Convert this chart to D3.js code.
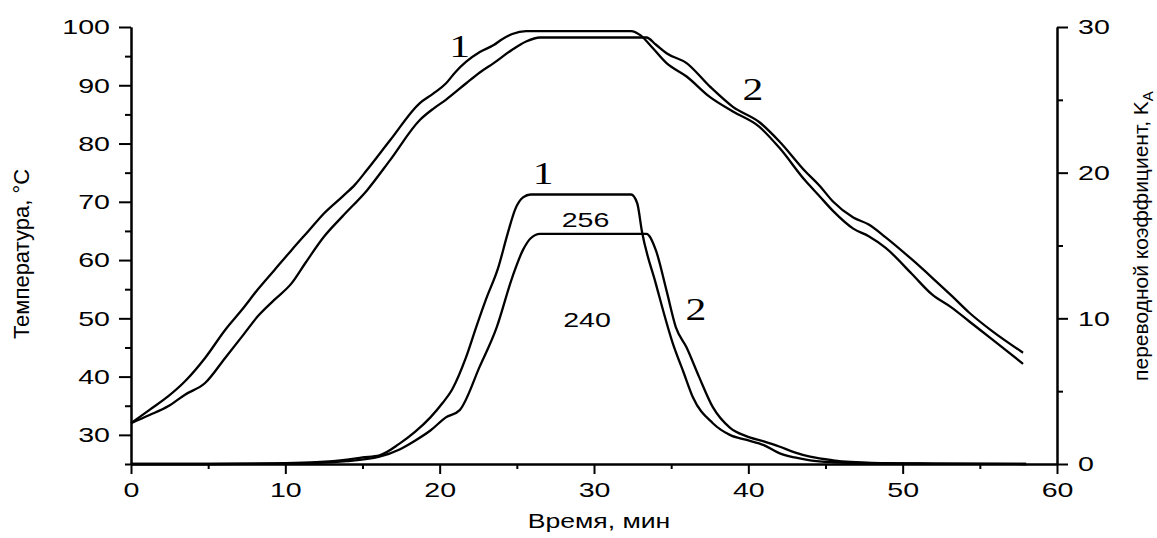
<!DOCTYPE html>
<html>
<head>
<meta charset="utf-8">
<script src="https://cdn.jsdelivr.net/npm/d3@7"></script>
<style>
  html, body { margin: 0; padding: 0; background: #fff; }
  svg { display: block; }
  text { font-family: "Liberation Sans", Arial, sans-serif; fill: #000; }
</style>
</head>
<body>
<svg id="chart" width="1157" height="538"></svg>
<script>
// ---- data ----
const tempTime1 = [0,1.2,2.4,3.5,4.8,6.1,7.2,8.2,9.3,10.4,11.5,12.5,13.7,14.5,15.3,16.8,18.7,19.6,20.4,21.0,21.7,22.6,23.5,24.1,24.7,25.6,32.4,33.0,33.6,34.7,36.0,37.5,39.0,40.7,42.0,43.7,44.6,45.5,46.8,47.8,48.9,50.6,51.9,53.2,54.3,55.8,57.8];
const tempValues1 = [32,34.3,36.6,39.2,43.2,48.0,51.5,54.9,58.3,61.7,65.0,68.0,70.9,72.9,75.5,80.6,86.9,88.6,90.3,92.2,94.0,95.7,96.9,98.0,98.8,99.3,99.3,98.6,97.0,93.8,91.5,88.0,85.5,82.9,79.3,73.6,71.0,68.4,65.4,64.1,62.1,57.6,54.1,51.8,49.5,46.4,42.2];
const tempTime2 = [0,1.2,2.4,3.5,4.8,6.1,7.2,8.2,9.3,10.4,11.3,12.5,13.7,15.3,16.8,18.7,19.6,20.4,21.7,22.6,23.5,24.7,25.6,26.5,33.4,34.0,34.7,36.0,37.5,39.0,40.7,42.0,43.7,44.6,45.5,46.8,47.8,48.9,50.6,51.9,53.2,54.3,55.8,57.8];
const tempValues2 = [32,33.4,34.9,36.9,38.9,43.2,46.9,50.3,53.2,56.0,59.5,64.0,67.5,72.0,77.2,84.0,86.0,87.5,90.3,92.2,93.8,96.1,97.5,98.2,98.2,97.0,95.5,93.8,89.8,86.3,83.7,80.4,75.2,72.8,70.0,67.3,66.1,63.9,60.1,57.0,53.8,51.0,47.8,44.1];
const kTime1 = [0,5,10,12,14,15,16.1,17.4,18.4,19.4,20.2,20.8,21.7,22.4,23.0,23.8,24.4,24.9,25.4,25.9,32.4,32.8,33.1,34.0,35.1,35.8,36.4,37.7,38.8,39.9,41.0,42.0,43.0,44.0,45.5,48,52,58];
const kValues1 = [0,0,0.05,0.12,0.3,0.45,0.6,1.4,2.2,3.2,4.2,5.1,7.3,9.5,11.3,13.5,15.8,17.5,18.3,18.5,18.5,17.9,16.0,12.4,8.3,6.3,4.6,2.8,2.0,1.65,1.3,0.75,0.45,0.25,0.12,0.05,0.02,0];
const kTime2 = [0,5,10,14,16.1,17.4,18.4,19.4,20.4,21.3,22.6,23.7,24.7,25.4,25.9,26.5,33.4,34.0,34.7,35.3,36.0,36.8,37.7,38.8,39.9,41.0,42.0,43.0,44.0,45.5,48,52,58];
const kValues2 = [0,0,0.03,0.2,0.5,1.0,1.6,2.3,3.2,3.7,6.7,9.4,12.8,14.7,15.5,15.8,15.8,14.7,11.9,9.4,8.0,6.0,3.9,2.5,1.9,1.55,1.2,0.8,0.5,0.25,0.08,0.03,0];

const xMajor = [0,10,20,30,40,50,60];
const xMinor = [5,15,25,35,45,55];
const yLeftMajor = [30,40,50,60,70,80,90,100];
const yLeftMinor = [25,35,45,55,65,75,85,95];
const yRightMajor = [0,10,20,30];
const yRightMinor = [5,15,25];

const xTitle = "Время, мин";
const yLeftTitle = "Температура, °C";
const yRightTitle = "переводной коэффициент, K";
const yRightSub = "A";
const areaLabels = ["256", "240"];

// ---- layout ----
const svg = d3.select("#chart");
const X0 = 131, X1 = 1057, Y0 = 464, Y1 = 27;
const x = d3.scaleLinear().domain([0,60]).range([X0,X1]);
const yL = d3.scaleLinear().domain([25,100]).range([Y0,Y1]);
const yR = d3.scaleLinear().domain([0,30]).range([Y0,Y1]);

const STRETCH = 1.36;
function stretch(sel, f) {
  sel.each(function() {
    const len = this.getComputedTextLength();
    if (len > 0) {
      this.setAttribute("textLength", (len * f).toFixed(2));
      this.setAttribute("lengthAdjust", "spacingAndGlyphs");
    }
  });
}

function styleAxis(g) {
  g.selectAll("path.domain").attr("stroke", "#000").attr("stroke-width", 2);
  g.selectAll(".tick line").attr("stroke", "#000").attr("stroke-width", 2);
  g.selectAll(".tick text").attr("font-size", 21).attr("font-family", "Liberation Sans, Arial, sans-serif").attr("fill", "#000");
}

// bottom axis
const gxMin = svg.append("g").attr("transform", `translate(0,${Y0})`)
  .call(d3.axisBottom(x).tickValues(xMinor).tickSize(5).tickFormat("").tickSizeOuter(0));
styleAxis(gxMin);
const gx = svg.append("g").attr("transform", `translate(0,${Y0})`)
  .call(d3.axisBottom(x).tickValues(xMajor).tickSize(10).tickPadding(8).tickSizeOuter(0).tickFormat(d3.format("d")));
styleAxis(gx);

// left axis
const gyMin = svg.append("g").attr("transform", `translate(${X0},0)`)
  .call(d3.axisLeft(yL).tickValues(yLeftMinor).tickSize(6).tickFormat("").tickSizeOuter(0));
styleAxis(gyMin);
const gy = svg.append("g").attr("transform", `translate(${X0},0)`)
  .call(d3.axisLeft(yL).tickValues(yLeftMajor).tickSize(12).tickPadding(9).tickSizeOuter(0).tickFormat(d3.format("d")));
styleAxis(gy);

// right axis
const grMin = svg.append("g").attr("transform", `translate(${X1},0)`)
  .call(d3.axisRight(yR).tickValues(yRightMinor).tickSize(6).tickFormat("").tickSizeOuter(0));
styleAxis(grMin);
const gr = svg.append("g").attr("transform", `translate(${X1},0)`)
  .call(d3.axisRight(yR).tickValues(yRightMajor).tickSize(11).tickPadding(10).tickSizeOuter(0).tickFormat(d3.format("d")));
styleAxis(gr);

stretch(svg.selectAll(".tick text"), STRETCH);

// curves
const lineL = d3.line().x(d => x(d[0])).y(d => yL(d[1])).curve(d3.curveMonotoneX);
const lineR = d3.line().x(d => x(d[0])).y(d => yR(d[1])).curve(d3.curveMonotoneX);
const series = [
  {line: lineL, t: tempTime1, v: tempValues1},
  {line: lineL, t: tempTime2, v: tempValues2},
  {line: lineR, t: kTime1, v: kValues1},
  {line: lineR, t: kTime2, v: kValues2}
];
series.forEach(s => {
  svg.append("path")
    .attr("d", s.line(s.t.map((t, i) => [t, s.v[i]])))
    .attr("fill", "none")
    .attr("stroke", "#000")
    .attr("stroke-width", 2.3)
    .attr("stroke-linejoin", "round");
});

// curve labels (serif)
const curveLabels = [
  {txt: "1", t: 21.3, v: 94.9, axis: "L"},
  {txt: "2", t: 40.3, v: 87.5, axis: "L"},
  {txt: "1", t: 26.7, v: 19.2, axis: "R"},
  {txt: "2", t: 36.6, v: 9.9, axis: "R"}
];
const cl = svg.append("g").selectAll("text").data(curveLabels).join("text")
  .attr("x", d => x(d.t))
  .attr("y", d => d.axis === "L" ? yL(d.v) : yR(d.v))
  .attr("text-anchor", "middle")
  .attr("font-size", 32)
  .style("font-family", "Liberation Serif, Times New Roman, serif")
  .text(d => d.txt);
stretch(cl, 1.3);

// area labels
const al = svg.append("g").selectAll("text").data([
  {txt: areaLabels[0], t: 29.45, v: 16.3},
  {txt: areaLabels[1], t: 29.55, v: 9.4}
]).join("text")
  .attr("x", d => x(d.t))
  .attr("y", d => yR(d.v))
  .attr("text-anchor", "middle")
  .attr("font-size", 21)
  .text(d => d.txt);
stretch(al, STRETCH);

// axis titles
const xt = svg.append("text")
  .attr("x", 599).attr("y", 528)
  .attr("text-anchor", "middle")
  .attr("font-size", 20)
  .text(xTitle);
stretch(xt, 1.33);

svg.append("text")
  .attr("transform", "translate(29,254) rotate(-90)")
  .attr("text-anchor", "middle")
  .attr("font-size", 22)
  .text(yLeftTitle);

const rt = svg.append("text")
  .attr("transform", "translate(1148,236) rotate(-90)")
  .attr("text-anchor", "middle")
  .attr("font-size", 21);
rt.append("tspan").text(yRightTitle);
rt.append("tspan").attr("font-size", 15).attr("dy", 5).text(yRightSub);
</script>
</body>
</html>
